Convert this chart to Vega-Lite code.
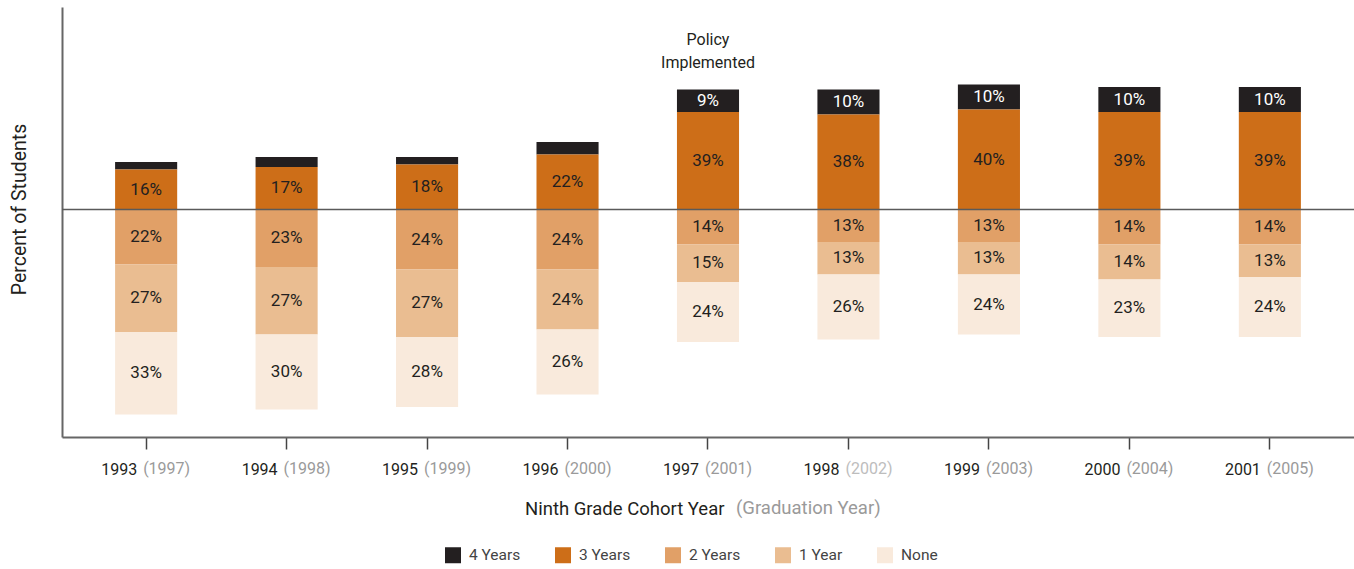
{
  "$schema": "https://vega.github.io/schema/vega-lite/v6.json",
  "width": 1292,
  "height": 430,
  "autosize": {"type": "none"},
  "padding": {"left": 62, "top": 7, "right": 0, "bottom": 132},
  "config": {
    "view": {"stroke": null},
    "font": "Roboto, sans-serif"
  },
  "datasets": {
    "bars": [
      {"cohort": "1993", "cat": "4 Years", "years": 4, "value": 3, "label": ""},
      {"cohort": "1993", "cat": "3 Years", "years": 3, "value": 16, "label": "16%"},
      {"cohort": "1993", "cat": "2 Years", "years": 2, "value": -22, "label": "22%"},
      {"cohort": "1993", "cat": "1 Year", "years": 1, "value": -27, "label": "27%"},
      {"cohort": "1993", "cat": "None", "years": 0, "value": -33, "label": "33%"},
      {"cohort": "1994", "cat": "4 Years", "years": 4, "value": 4, "label": ""},
      {"cohort": "1994", "cat": "3 Years", "years": 3, "value": 17, "label": "17%"},
      {"cohort": "1994", "cat": "2 Years", "years": 2, "value": -23, "label": "23%"},
      {"cohort": "1994", "cat": "1 Year", "years": 1, "value": -27, "label": "27%"},
      {"cohort": "1994", "cat": "None", "years": 0, "value": -30, "label": "30%"},
      {"cohort": "1995", "cat": "4 Years", "years": 4, "value": 3, "label": ""},
      {"cohort": "1995", "cat": "3 Years", "years": 3, "value": 18, "label": "18%"},
      {"cohort": "1995", "cat": "2 Years", "years": 2, "value": -24, "label": "24%"},
      {"cohort": "1995", "cat": "1 Year", "years": 1, "value": -27, "label": "27%"},
      {"cohort": "1995", "cat": "None", "years": 0, "value": -28, "label": "28%"},
      {"cohort": "1996", "cat": "4 Years", "years": 4, "value": 5, "label": ""},
      {"cohort": "1996", "cat": "3 Years", "years": 3, "value": 22, "label": "22%"},
      {"cohort": "1996", "cat": "2 Years", "years": 2, "value": -24, "label": "24%"},
      {"cohort": "1996", "cat": "1 Year", "years": 1, "value": -24, "label": "24%"},
      {"cohort": "1996", "cat": "None", "years": 0, "value": -26, "label": "26%"},
      {"cohort": "1997", "cat": "4 Years", "years": 4, "value": 9, "label": "9%"},
      {"cohort": "1997", "cat": "3 Years", "years": 3, "value": 39, "label": "39%"},
      {"cohort": "1997", "cat": "2 Years", "years": 2, "value": -14, "label": "14%"},
      {"cohort": "1997", "cat": "1 Year", "years": 1, "value": -15, "label": "15%"},
      {"cohort": "1997", "cat": "None", "years": 0, "value": -24, "label": "24%"},
      {"cohort": "1998", "cat": "4 Years", "years": 4, "value": 10, "label": "10%"},
      {"cohort": "1998", "cat": "3 Years", "years": 3, "value": 38, "label": "38%"},
      {"cohort": "1998", "cat": "2 Years", "years": 2, "value": -13, "label": "13%"},
      {"cohort": "1998", "cat": "1 Year", "years": 1, "value": -13, "label": "13%"},
      {"cohort": "1998", "cat": "None", "years": 0, "value": -26, "label": "26%"},
      {"cohort": "1999", "cat": "4 Years", "years": 4, "value": 10, "label": "10%"},
      {"cohort": "1999", "cat": "3 Years", "years": 3, "value": 40, "label": "40%"},
      {"cohort": "1999", "cat": "2 Years", "years": 2, "value": -13, "label": "13%"},
      {"cohort": "1999", "cat": "1 Year", "years": 1, "value": -13, "label": "13%"},
      {"cohort": "1999", "cat": "None", "years": 0, "value": -24, "label": "24%"},
      {"cohort": "2000", "cat": "4 Years", "years": 4, "value": 10, "label": "10%"},
      {"cohort": "2000", "cat": "3 Years", "years": 3, "value": 39, "label": "39%"},
      {"cohort": "2000", "cat": "2 Years", "years": 2, "value": -14, "label": "14%"},
      {"cohort": "2000", "cat": "1 Year", "years": 1, "value": -14, "label": "14%"},
      {"cohort": "2000", "cat": "None", "years": 0, "value": -23, "label": "23%"},
      {"cohort": "2001", "cat": "4 Years", "years": 4, "value": 10, "label": "10%"},
      {"cohort": "2001", "cat": "3 Years", "years": 3, "value": 39, "label": "39%"},
      {"cohort": "2001", "cat": "2 Years", "years": 2, "value": -14, "label": "14%"},
      {"cohort": "2001", "cat": "1 Year", "years": 1, "value": -13, "label": "13%"},
      {"cohort": "2001", "cat": "None", "years": 0, "value": -24, "label": "24%"}
    ],
    "cohorts": [
      {"cohort": "1993", "grad": "1997"},
      {"cohort": "1994", "grad": "1998"},
      {"cohort": "1995", "grad": "1999"},
      {"cohort": "1996", "grad": "2000"},
      {"cohort": "1997", "grad": "2001"},
      {"cohort": "1998", "grad": "2002"},
      {"cohort": "1999", "grad": "2003"},
      {"cohort": "2000", "grad": "2004"},
      {"cohort": "2001", "grad": "2005"}
    ],
    "notes": [
      {"cohort": "1997", "note": "Policy Implemented"}
    ]
  },
  "layer": [
    {
      "data": {"name": "bars"},
      "transform": [{"filter": "datum.value > 0"}],
      "mark": {"type": "bar"},
      "encoding": {
        "x": {
          "field": "cohort", "type": "nominal",
          "scale": {"paddingInner": 0.558, "paddingOuter": 0.378},
          "axis": {
            "title": "Ninth Grade Cohort Year",
            "titleFontSize": 18.5, "titleFontWeight": "normal", "titleColor": "#231f20",
            "titleX": 662, "titleY": 77, "titleAlign": "right", "titleBaseline": "alphabetic",
            "labelAngle": 0, "labelFontSize": 16, "labelColor": "#231f20",
            "labelAlign": "right", "labelOffset": -9, "labelPadding": 12,
            "tickSize": 12, "tickColor": "#444444", "tickWidth": 1.5,
            "domainColor": "#666666", "domainWidth": 2, "grid": false
          }
        },
        "y": {
          "field": "value", "type": "quantitative", "stack": "zero",
          "scale": {"domain": [-91, 81], "nice": false, "zero": false},
          "axis": {
            "title": "Percent of Students",
            "titleFontSize": 19.5, "titleFontWeight": "normal", "titleColor": "#231f20",
            "titleX": -37, "titleY": 202, "titleAngle": 270, "titleAlign": "center", "titleBaseline": "alphabetic",
            "labels": false, "ticks": false, "grid": false,
            "domainColor": "#666666", "domainWidth": 2
          }
        },
        "color": {
          "field": "cat", "type": "nominal",
          "scale": {
            "domain": ["4 Years", "3 Years", "2 Years", "1 Year", "None"],
            "range": ["#231f20", "#cd6e18", "#e1a067", "#eabd91", "#f9eadc"]
          },
          "legend": {
            "orient": "none", "legendX": 383, "legendY": 540, "direction": "horizontal",
            "title": null, "symbolType": "square", "symbolSize": 256, "symbolStrokeWidth": 0,
            "symbolOpacity": 1, "labelFontSize": 15.5, "labelColor": "#444444", "labelOffset": 8,
            "columnPadding": 34, "gridAlign": "each", "padding": 0
          }
        },
        "order": {"field": "years", "sort": "ascending"}
      }
    },
    {
      "data": {"name": "bars"},
      "transform": [{"filter": "datum.value < 0"}],
      "mark": {"type": "bar"},
      "encoding": {
        "x": {"field": "cohort", "type": "nominal"},
        "y": {
          "field": "value", "type": "quantitative", "stack": "zero",
          "scale": {"domain": [-91, 81], "nice": false, "zero": false}
        },
        "color": {"field": "cat", "type": "nominal"},
        "order": {"field": "years", "sort": "descending"}
      }
    },
    {
      "data": {"values": [{}]},
      "mark": {"type": "rule", "color": "#5a5a5a", "strokeWidth": 1.5},
      "encoding": {"y": {"datum": 0}}
    },
    {
      "data": {"name": "bars"},
      "transform": [{"filter": "datum.value > 0"}],
      "mark": {"type": "text", "fontSize": 17, "baseline": "middle", "align": "center"},
      "encoding": {
        "x": {"field": "cohort", "type": "nominal"},
        "y": {
          "field": "value", "type": "quantitative", "stack": "zero", "bandPosition": 0.5,
          "scale": {"domain": [-91, 81], "nice": false, "zero": false}
        },
        "detail": {"field": "cat"},
        "order": {"field": "years", "sort": "ascending"},
        "text": {"field": "label"},
        "color": {"condition": {"test": "datum.cat === '4 Years'", "value": "#ffffff"}, "value": "#231f20"}
      }
    },
    {
      "data": {"name": "bars"},
      "transform": [{"filter": "datum.value < 0"}],
      "mark": {"type": "text", "fontSize": 17, "baseline": "middle", "align": "center"},
      "encoding": {
        "x": {"field": "cohort", "type": "nominal"},
        "y": {
          "field": "value", "type": "quantitative", "stack": "zero", "bandPosition": 0.5,
          "scale": {"domain": [-91, 81], "nice": false, "zero": false}
        },
        "detail": {"field": "cat"},
        "order": {"field": "years", "sort": "descending"},
        "text": {"field": "label"},
        "color": {"value": "#231f20"}
      }
    },
    {
      "data": {"name": "cohorts"},
      "mark": {
        "type": "text", "fontSize": 16, "align": "left", "baseline": "alphabetic", "dx": -3,
        "text": {"expr": "'(' + datum.grad + ')'"}
      },
      "encoding": {
        "x": {"field": "cohort", "type": "nominal"},
        "y": {"datum": -105.8},
        "color": {"condition": {"test": "datum.grad === '2002'", "value": "#bdbdbd"}, "value": "#9a9a9a"}
      }
    },
    {
      "data": {"name": "notes"},
      "mark": {
        "type": "text", "fontSize": 16, "align": "center", "baseline": "middle",
        "lineBreak": " ", "lineHeight": 23, "color": "#231f20"
      },
      "encoding": {
        "x": {"field": "cohort", "type": "nominal"},
        "y": {"datum": 67.8},
        "text": {"field": "note"}
      }
    },
    {
      "data": {"values": [{"part": "(Graduation Year)"}]},
      "mark": {
        "type": "text", "fontSize": 18.5, "align": "left", "baseline": "alphabetic",
        "dx": 28, "color": "#9a9a9a"
      },
      "encoding": {
        "x": {"datum": "1997", "type": "nominal"},
        "y": {"datum": -121.9},
        "text": {"field": "part"}
      }
    }
  ]
}
